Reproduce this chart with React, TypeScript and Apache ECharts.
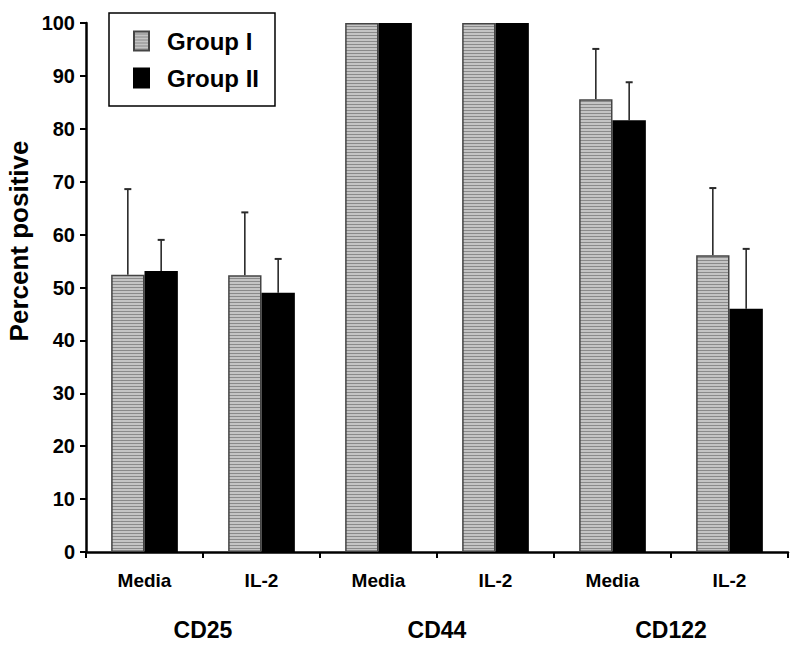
import React, { useEffect, useRef } from "react";
import * as echarts from "echarts";

const categories = ["Media", "IL-2", "Media", "IL-2", "Media", "IL-2"];
const groups = ["CD25", "CD44", "CD122"];
const seriesNames = ["Group I", "Group II"];
const groupI = [52.4, 52.3, 100, 100, 85.6, 56.1];
const groupII = [53.1, 49.0, 100, 100, 81.6, 46.0];
const errI = [16.2, 11.9, 0, 0, 9.5, 12.7];
const errII = [5.9, 6.4, 0, 0, 7.2, 11.3];
const yTicks = [0, 10, 20, 30, 40, 50, 60, 70, 80, 90, 100];

const FONT = "'Liberation Sans', Arial, Helvetica, sans-serif";
const CAT_GAP = 0.43;

function makeStripe(): HTMLCanvasElement {
  const c = document.createElement("canvas");
  c.width = 4;
  c.height = 3;
  const ctx = c.getContext("2d")!;
  ctx.fillStyle = "#c4c4c4";
  ctx.fillRect(0, 0, 4, 3);
  ctx.fillStyle = "#8a8a8a";
  ctx.fillRect(0, 2, 4, 1);
  return c;
}

export default function App() {
  const ref = useRef<HTMLDivElement>(null);
  useEffect(() => {
    if (!ref.current) return;
    const chart = echarts.init(ref.current, undefined, { renderer: "svg" });
    const stripe = makeStripe();
    const pattern: any = { image: stripe, repeat: "repeat", imageWidth: 4, imageHeight: 3 };

    const errData = (vals: number[], errs: number[]) =>
      vals.map((v, i) => [i, v, v + errs[i], errs[i]]);

    const makeErr = (idx: number, vals: number[], errs: number[]) => ({
      type: "custom",
      name: "err" + idx,
      xAxisIndex: 0,
      yAxisIndex: 0,
      z: 1,
      silent: true,
      data: errData(vals, errs),
      renderItem: (params: any, api: any) => {
        const e = api.value(3);
        if (!e) return null;
        const i = api.value(0);
        const base = api.coord([i, api.value(1)]);
        const top = api.coord([i, api.value(2)]);
        const band = api.size([1, 0])[0];
        const barW = (band * (1 - CAT_GAP)) / 2;
        const x = base[0] + (idx === 0 ? -barW / 2 : barW / 2);
        const style = { stroke: "#2a2a2a", lineWidth: 1.6 };
        return {
          type: "group",
          children: [
            { type: "line", shape: { x1: x, y1: base[1], x2: x, y2: top[1] }, style },
            { type: "line", shape: { x1: x - 3.5, y1: top[1], x2: x + 3.5, y2: top[1] }, style: { stroke: "#2a2a2a", lineWidth: 2 } },
          ],
        };
      },
    });

    chart.setOption({
      animation: false,
      textStyle: { fontFamily: FONT },
      grid: { left: 86, right: 12, top: 23, bottom: 94, containLabel: false },
      legend: {
        orient: "vertical",
        left: 109,
        top: 13,
        data: seriesNames,
        backgroundColor: "#fff",
        borderColor: "#000",
        borderWidth: 1.5,
        borderRadius: 0,
        padding: [16, 16, 16, 24],
        itemWidth: 15,
        itemHeight: 19,
        itemGap: 13,
        icon: "rect",
        textStyle: { fontSize: 24, fontWeight: "bold", color: "#000", fontFamily: FONT, padding: [0, 0, 0, 13] },
      },
      xAxis: [
        {
          type: "category",
          data: categories,
          position: "bottom",
          axisLine: { lineStyle: { color: "#000", width: 2.5 } },
          axisTick: { show: true, length: 6, lineStyle: { color: "#000", width: 2 } },
          axisLabel: { fontSize: 19, fontWeight: "bold", color: "#000", margin: 19, fontFamily: FONT },
        },
        {
          type: "category",
          data: groups,
          position: "bottom",
          offset: 58,
          axisLine: { show: false },
          axisTick: { show: false },
          axisLabel: { fontSize: 23, fontWeight: "bold", color: "#000", margin: 8, fontFamily: FONT },
        },
      ],
      yAxis: {
        type: "value",
        min: yTicks[0],
        max: yTicks[yTicks.length - 1],
        interval: 10,
        splitLine: { show: false },
        axisLine: { show: true, lineStyle: { color: "#000", width: 2.5 } },
        axisTick: { show: true, length: 6, lineStyle: { color: "#000", width: 2 } },
        axisLabel: { fontSize: 20, fontWeight: "bold", color: "#000", margin: 11, fontFamily: FONT },
      },
      graphic: [
        {
          type: "text",
          x: 19,
          y: 241,
          rotation: Math.PI / 2,
          style: {
            text: "Percent positive",
            fontSize: 26,
            fontWeight: "bold",
            fontFamily: FONT,
            fill: "#000",
            textAlign: "center",
            textVerticalAlign: "middle",
          },
        },
      ],
      series: [
        {
          type: "bar",
          name: seriesNames[0],
          data: groupI,
          barGap: "0%",
          barCategoryGap: CAT_GAP * 100 + "%",
          itemStyle: { color: pattern, borderColor: "#444", borderWidth: 1.5 },
          z: 2,
        },
        {
          type: "bar",
          name: seriesNames[1],
          data: groupII,
          barGap: "0%",
          barCategoryGap: CAT_GAP * 100 + "%",
          itemStyle: { color: "#000", borderColor: "#000", borderWidth: 1.5 },
          z: 2,
        },
        makeErr(0, groupI, errI),
        makeErr(1, groupII, errII),
      ],
    });
    return () => chart.dispose();
  }, []);
  return (
    <div
      ref={ref}
      style={{ position: "fixed", left: 0, top: 0, width: 800, height: 646, background: "#fff" }}
    />
  );
}
